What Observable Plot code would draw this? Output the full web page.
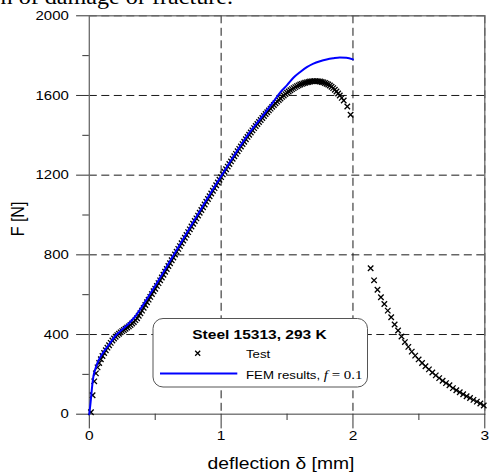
<!DOCTYPE html>
<html><head><meta charset="utf-8">
<script src="https://cdn.jsdelivr.net/npm/d3@7"></script>
<script src="https://cdn.jsdelivr.net/npm/@observablehq/plot@0.6"></script>
<style>html,body{margin:0;padding:0;background:#fff;} #chart svg{display:block;}</style>
</head><body><div id="chart"></div>
<script>
// ---- data ----
const testDeflection = [
0.0125,0.025,0.0375,0.05,0.0625,0.075,0.0875,0.1,
0.1125,0.125,0.1375,0.15,0.1625,0.175,0.1875,0.2,
0.2125,0.225,0.2375,0.25,0.2625,0.275,0.2875,0.3,
0.3125,0.325,0.3375,0.35,0.3625,0.375,0.3875,0.4,
0.4125,0.425,0.4375,0.45,0.4625,0.475,0.4875,0.5,
0.5125,0.525,0.5375,0.55,0.5625,0.575,0.5875,0.6,
0.6125,0.625,0.6375,0.65,0.6625,0.675,0.6875,0.7,
0.7125,0.725,0.7375,0.75,0.7625,0.775,0.7875,0.8,
0.8125,0.825,0.8375,0.85,0.8625,0.875,0.8875,0.9,
0.9125,0.925,0.9375,0.95,0.9625,0.975,0.9875,1.0,
1.0125,1.025,1.0375,1.05,1.0625,1.075,1.0875,1.1,
1.1125,1.125,1.1375,1.15,1.1625,1.175,1.1875,1.2,
1.2125,1.225,1.2375,1.25,1.2625,1.275,1.2875,1.3,
1.3125,1.325,1.3375,1.35,1.3625,1.375,1.3875,1.4,
1.4125,1.425,1.4375,1.45,1.4625,1.475,1.4875,1.5,
1.5125,1.525,1.5375,1.55,1.5625,1.575,1.5875,1.6,
1.6125,1.625,1.6375,1.65,1.6625,1.675,1.6875,1.7,
1.7125,1.725,1.7375,1.75,1.7625,1.775,1.7875,1.8,
1.8125,1.825,1.8375,1.85,1.8625,1.875,1.8875,1.9,
1.915,1.93,1.957,1.982,
2.134,2.160,2.186,2.212,2.238,2.264,2.29,2.316,2.342,2.368,
2.394,2.42,2.446,2.472,2.498,2.524,2.55,2.576,2.602,2.628,
2.654,2.68,2.706,2.732,2.758,2.784,2.81,2.836,2.862,2.888,
2.914,2.94,2.966,2.992
];
const testForce = [
10,95,165,205,235,257,276,292,
307,321,334,346,358,370,380,389,
397,404,411,417,423,429,435,441,
448,455,463,472,482,494,507,520,
534,548,562,575,589,603,617,630,
644,658,672,686,700,715,729,744,
758,773,787,802,816,830,844,858,
872,886,900,914,928,942,956,970,
983,997,1011,1025,1039,1053,1067,1080,
1094,1108,1122,1135,1149,1163,1177,1190,
1204,1217,1230,1243,1256,1269,1282,1295,
1307,1320,1332,1344,1356,1368,1380,1392,
1403,1414,1425,1436,1447,1457,1467,1477,
1487,1497,1507,1516,1525,1534,1543,1552,
1561,1569,1577,1585,1593,1600,1607,1614,
1620,1626,1632,1637,1642,1647,1651,1655,
1658,1661,1664,1666,1668,1670,1671,1672,
1672,1672,1671,1670,1668,1666,1663,1659,
1655,1650,1644,1637,1629,1620,1610,1600,
1588,1575,1545,1503,
733,672,625,587,553,520,487,450,420,390,
362,338,314,294,275,257,241,225,209,195,
181,168,156,145,131,120,110,100,90,81,
72,63,54,44
];
const femDeflection = [0,0.01,0.02,0.03,0.05,0.07,0.1,0.15,0.2,0.25,0.3,0.35,0.4,0.45,0.5,0.6,0.7,0.8,0.9,1.0,1.1,1.2,1.3,1.4,1.45,1.5,1.55,1.6,1.65,1.7,1.75,1.8,1.85,1.9,1.95,2.0];
const femForce = [0,60,130,185,235,270,305,350,395,425,455,492,540,592,645,755,866,977,1088,1195,1300,1400,1485,1572,1617,1652,1690,1718,1742,1760,1772,1781,1787,1791,1790,1781];

const yMajorTicks = [0,400,800,1200,1600,2000];
const yMinorTicks = [200,600,1000,1400,1800];
const xMajorTicks = [0,1,2,3];
const xMinorTicks = [0.5,1.5,2.5];
const yGridLines = [400,800,1200,1600,2000];
const xGridLines = [1,2,3];

const xLabel = "deflection δ [mm]";
const yLabel = "F [N]";
const legendTitle = "Steel 15313, 293 K";
const testName = "Test";
const femName = "FEM results, ";
const femParamName = "f";
const femParamValue = " = 0.1";
const topCaption = "tiation of damage or fracture.";

// ---- build ----
const test = testDeflection.map((d, i) => ({d, f: testForce[i]}));
const fem = femDeflection.map((d, i) => ({d, f: femForce[i]}));

const SX = 1.15; // horizontal stretch of the reference's text
const sans = "'Liberation Sans', Arial, sans-serif";
const serif = "'Liberation Serif', 'Times New Roman', serif";

const chart = Plot.plot({
  width: 490, height: 472,
  marginLeft: 88.8, marginRight: 5.7, marginTop: 15.3, marginBottom: 58.3,
  x: {domain: [0, 3]},
  y: {domain: [0, 2000]},
  style: {fontFamily: sans, fontSize: "13px", background: "white", color: "black"},
  marks: [
    Plot.gridY(yGridLines, {stroke: "#1a1a1a", strokeOpacity: 1, strokeWidth: 1, strokeDasharray: "8,4.5"}),
    Plot.gridX(xGridLines, {stroke: "#1a1a1a", strokeOpacity: 1, strokeWidth: 1, strokeDasharray: "8,4.5"}),
    Plot.frame({stroke: "#6a6a6a", strokeWidth: 1.3}),
    Plot.axisY(yMajorTicks, {tickSize: 12.7, tickPadding: 7.8, stroke: "#333", fontSize: 13, tickFormat: d => String(d), label: null}),
    Plot.axisY(yMinorTicks, {tickSize: 6.5, stroke: "#333", text: null, label: null}),
    Plot.axisX(xMajorTicks, {tickSize: 14.7, tickPadding: 2, stroke: "#333", fontSize: 13.5, tickFormat: d => String(d), label: null}),
    Plot.axisX(xMinorTicks, {tickSize: 6.3, stroke: "#333", text: null, label: null}),
    Plot.dot(test, {x: "d", y: "f", symbol: "times", r: 2.6, stroke: "black", strokeWidth: 1.3}),
    Plot.line(fem, {x: "d", y: "f", stroke: "#0000ff", strokeWidth: 2, curve: "monotone-x"})
  ]
});
document.getElementById("chart").appendChild(chart);

const svg = d3.select(chart);
// stretch tick labels horizontally about their anchor
svg.selectAll("g[aria-label$='tick label'] text").each(function() {
  const t = this.getAttribute("transform");
  if (t && /translate/.test(t)) this.setAttribute("transform", t + ` scale(${SX},1)`);
  else {
    const x = +this.getAttribute("x") || 0, y = +this.getAttribute("y") || 0;
    this.removeAttribute("x"); this.removeAttribute("y");
    this.setAttribute("transform", `translate(${x},${y}) scale(${SX},1)`);
  }
});

// cropped caption text from the page above
svg.append("text")
  .attr("transform", `translate(233,3.5) scale(${SX},1)`)
  .attr("text-anchor", "end")
  .style("font-family", serif).style("font-size", "21px").attr("fill", "black")
  .text(topCaption);

// axis labels
svg.append("text")
  .attr("transform", `translate(281,468.5) scale(1.17,1)`)
  .attr("text-anchor", "middle")
  .style("font-family", sans).style("font-size", "16.5px").attr("fill", "black")
  .text(xLabel);
svg.append("text")
  .attr("transform", `translate(24,219) rotate(-90) scale(1,${SX})`)
  .attr("text-anchor", "middle")
  .style("font-family", sans).style("font-size", "16px").attr("fill", "black")
  .text(yLabel);

// legend
const lg = svg.append("g");
lg.append("rect").attr("x", 153).attr("y", 318.5).attr("width", 214.5).attr("height", 68.5)
  .attr("rx", 10).attr("fill", "white").attr("stroke", "#555").attr("stroke-width", 1);
lg.append("text")
  .attr("transform", `translate(259.5,339) scale(${SX},1)`)
  .attr("text-anchor", "middle")
  .style("font-family", sans).style("font-size", "13.5px").style("font-weight", "bold").attr("fill", "black")
  .text(legendTitle);
lg.append("path")
  .attr("transform", "translate(197.7,353.3)")
  .attr("d", d3.symbol(d3.symbolTimes, Math.PI * 2.4 * 2.4)())
  .attr("fill", "none").attr("stroke", "black").attr("stroke-width", 1.3);
lg.append("text")
  .attr("transform", `translate(246,357.5) scale(${SX},1)`)
  .attr("text-anchor", "start")
  .style("font-family", sans).style("font-size", "11.5px").attr("fill", "black")
  .text(testName);
lg.append("line").attr("x1", 160).attr("x2", 237.3).attr("y1", 373.5).attr("y2", 373.5)
  .attr("stroke", "#0000ff").attr("stroke-width", 2);
const ft = lg.append("text")
  .attr("transform", `translate(246,378.5) scale(${SX},1)`)
  .attr("text-anchor", "start")
  .style("font-family", sans).style("font-size", "11.5px").attr("fill", "black");
ft.append("tspan").text(femName);
ft.append("tspan").style("font-family", serif).style("font-style", "italic").style("font-size", "13px").text(femParamName);
ft.append("tspan").style("font-family", serif).style("font-size", "13px").text(femParamValue);
</script>
</body></html>
